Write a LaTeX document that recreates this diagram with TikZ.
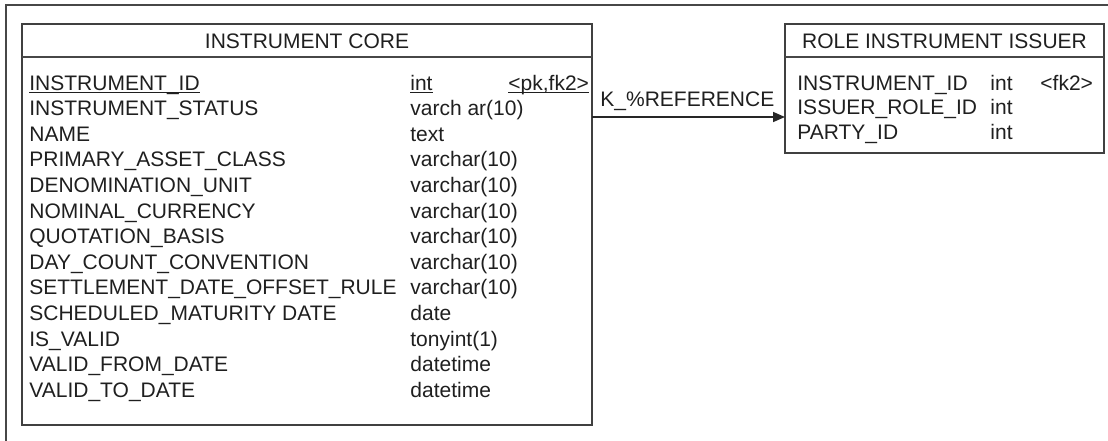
\documentclass[tikz,border=0pt]{standalone}
\usepackage{fontspec}
\setmainfont{Liberation Sans}
\usetikzlibrary{arrows.meta}
\begin{document}
\begin{tikzpicture}[x=0.5pt,y=-0.5pt,
  frame/.style={draw=black!72, line width=0.8pt},
  tablebox/.style={draw=black!75, line width=0.8pt, inner sep=0pt, outer sep=0pt, anchor=north west},
  txt/.style={inner sep=0pt, anchor=base west, text=black!88, font=\fontsize{10.5pt}{12pt}\selectfont},
  ttl/.style={txt, anchor=base},
  uline/.style={draw=black!88, line width=0.5pt},
  link/.style={draw=black!85, line width=0.8pt, -{Triangle[length=6pt,width=5pt]}},
]
\useasboundingbox (0,0) rectangle (1108,440);

% outer frame (only top and left edges fall inside the page)
\draw[frame] (6,442) -- (6,5) -- (1110,5);

% ---------------- INSTRUMENT CORE ----------------
\node[tablebox, minimum width=285pt, minimum height=200.5pt] (core) at (22,24) {};
\draw[frame] (core.west |- 0,57) -- (core.east |- 0,57);
\node[ttl] (coretitle) at (307,48.5) {INSTRUMENT CORE};

% primary key row, underlined just below the baseline
\node[txt] (cn0) at (29,90) {INSTRUMENT\_ID};
\node[txt] (ct0) at (410,90) {int};
\node[txt] (ck0) at (508,90) {<pk,fk2>};
\foreach \k in {cn0,ct0,ck0}
  \draw[uline] ([yshift=-1.4pt]\k.base west) -- ([yshift=-1.4pt]\k.base east);

\foreach \nm/\ty [count=\i from 1] in {
  INSTRUMENT\_STATUS/varch ar(10),
  NAME/text,
  PRIMARY\_ASSET\_CLASS/varchar(10),
  DENOMINATION\_UNIT/varchar(10),
  NOMINAL\_CURRENCY/varchar(10),
  QUOTATION\_BASIS/varchar(10),
  DAY\_COUNT\_CONVENTION/varchar(10),
  SETTLEMENT\_DATE\_OFFSET\_RULE/varchar(10),
  SCHEDULED\_MATURITY DATE/date,
  IS\_VALID/tonyint(1),
  VALID\_FROM\_DATE/datetime,
  VALID\_TO\_DATE/datetime}{
  \node[txt] (cn\i) at (29,90+25.6*\i) {\nm};
  \node[txt] (ct\i) at (410,90+25.6*\i) {\ty};
}

% ---------------- ROLE INSTRUMENT ISSUER ----------------
\node[tablebox, minimum width=159.5pt, minimum height=64.5pt] (issuer) at (785,24) {};
\draw[frame] (issuer.west |- 0,57) -- (issuer.east |- 0,57);
\node[ttl] (issuertitle) at (944.5,48.5) {ROLE INSTRUMENT ISSUER};

\node[txt] (in0) at (797,90) {INSTRUMENT\_ID};
\node[txt] (it0) at (990,90) {int};
\node[txt] (ik0) at (1040,90) {<fk2>};
\node[txt] (in1) at (797,114.5) {ISSUER\_ROLE\_ID};
\node[txt] (it1) at (990,114.5) {int};
\node[txt] (in2) at (797,139) {PARTY\_ID};
\node[txt] (it2) at (990,139) {int};

% ---------------- reference ----------------
\coordinate (linky) at (700,117);
\draw[link] (core.east |- linky) -- (issuer.west |- linky);
\node[txt] (reflabel) at (600,106) {K\_\%REFERENCE};
\end{tikzpicture}
\end{document}
